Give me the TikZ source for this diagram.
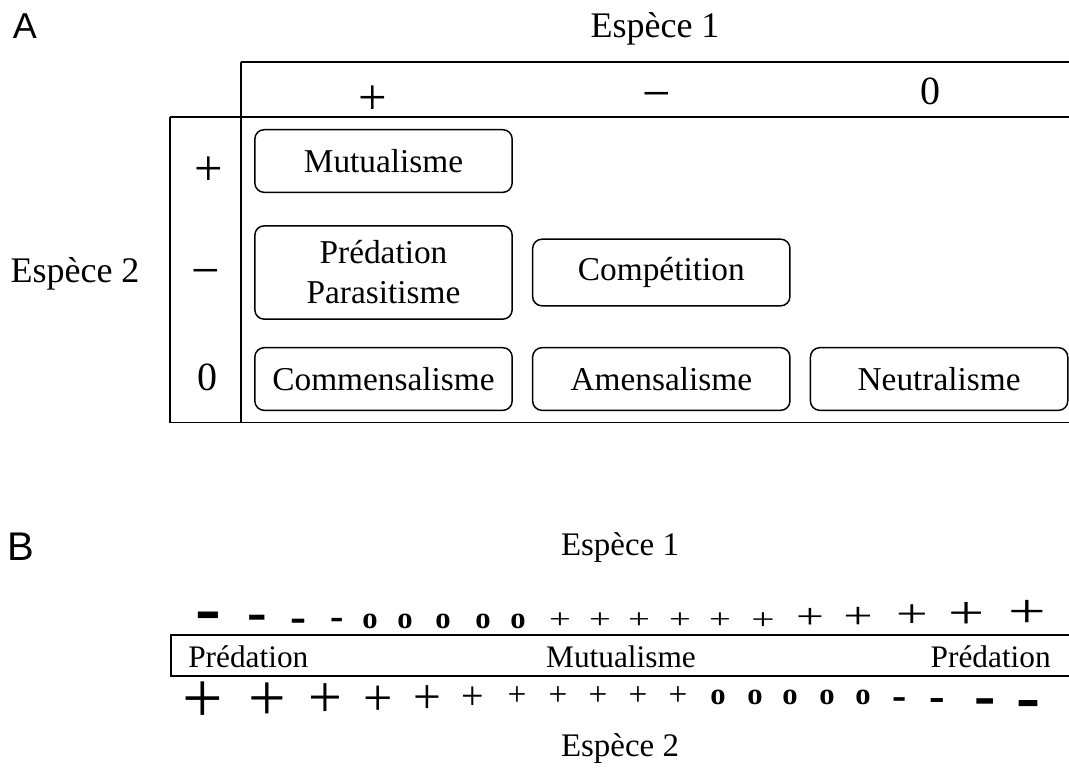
\documentclass[tikz,border=0pt]{standalone}
\usepackage{fontspec}
\setmainfont{Liberation Serif}
\newfontfamily\panelfont{Liberation Sans}
\usetikzlibrary{positioning}

\newcommand{\fs}[1]{\fontsize{#1}{#1}\selectfont}
\newcommand{\flatplus}{\scalebox{1}[0.72]{+}}

\begin{document}
\begin{tikzpicture}[x=0.75pt,y=-0.75pt,
  every node/.style={inner sep=0pt},
  thin rule/.style={line width=0.8pt},
  rule/.style={line width=1.2pt},
  relbox/.style={draw,line width=1.1pt,rounded corners=7pt,minimum width=193pt,
    minimum height=47pt,align=center,font=\fontsize{25}{30}\selectfont},
  sgn/.style={anchor=base,font=\fs{38}},
  zro/.style={anchor=base,font=\fs{30}},
  osym/.style={font=\bfseries\fs{23}}]
  \useasboundingbox (0,0) rectangle (1069,769);

  % A
  \node[font=\panelfont\fs{27}] (A) at (25,26) {A};
  \node[font=\fs{27}] (sp1) at (655,29) {Espèce 1};
  \node[font=\fs{27}] (sp2) at (75,274) {Espèce 2};

  \draw[thin rule] (241,62) -- (1069,62);
  \draw[thin rule] (241,62) -- (241,117);
  \draw[rule] (170,117) -- (1069,117);
  \draw[rule] (170,117) -- (170,422.5) -- (1069,422.5);
  \draw[rule] (241,117) -- (241,422.5);

  \node[sgn] (cplus) at (373,114) {+};
  \node[sgn] (cminus) at (657,110) {−};
  \node[zro] (czero) at (930,104) {0};
  \node[sgn] (rplus) at (209,185.5) {+};
  \node[sgn] (rminus) at (206,287.5) {−};
  \node[zro] (rzero) at (207,390.5) {0};

  \node[relbox] (mut) at (383.5,161) {Mutualisme};
  \node[relbox,minimum height=70pt] (pred) at (383.5,272.5) {Prédation\\Parasitisme};
  \node[relbox,minimum height=50pt,right=14.25pt of pred] (comp) {Compétition};
  \node[relbox] (comm) at (383.5,379) {Commensalisme};
  \node[relbox,right=14.25pt of comm] (amen) {Amensalisme};
  \node[relbox,right=14.25pt of amen] (neut) {Neutralisme};

  % B
  \node[font=\panelfont\fs{30}] (B) at (21,547) {B};
  \node[font=\fs{24.7}] (sp1b) at (620,548) {Espèce 1};
  \node[font=\fs{24.7}] (sp2b) at (620,749) {Espèce 2};

  \draw[rule] (1069,635) -- (171,635) -- (171,676) -- (1069,676);
  \node[font=\fs{23.5},anchor=west] (predl) at (188,657) {Prédation};
  \node[font=\fs{23.5}] (mutb) at (621,657) {Mutualisme};
  \node[font=\fs{23.5},anchor=east] (predr) at (1051,657) {Prédation};

  % effet sur espece 1
  \foreach \x/\y/\s [count=\i] in {208/623/58,257/623/44,298/626/36,337/624/30}
    \node[font=\bfseries\fs{\s}] (tm\i) at (\x,\y) {-};
  \foreach \x [count=\i] in {370,405,443,483,518}
    \node[osym] (to\i) at (\x,621) {o};
  \foreach \x/\y/\s [count=\i] in {560/621/29,600/621/29,639/621/29,680/621/29,720/621/29,
      763/621/31,810/618.5/37,858/617.5/39,912/616/42,967/615/48,1027/614/50}
    \node[font=\fs{\s}] (tp\i) at (\x,\y) {\flatplus};

  % effet sur espece 2
  \foreach \x/\y/\s [count=\i] in {203/702/54,267/702/50,325/701/45,378/701/39,427/700/37,
      473/698/30,517/696.5/25,558/696.5/25,598/696.5/25,638/696.5/25,678/696.5/25}
    \node[font=\fs{\s}] (bp\i) at (\x,\y) {+};
  \foreach \x [count=\i] in {718,755,790,827,863}
    \node[osym] (bo\i) at (\x,697) {o};
  \foreach \x/\y/\s [count=\i] in {900/704/32,937/705/35,985/708/48,1028/710/54}
    \node[font=\bfseries\fs{\s}] (bm\i) at (\x,\y) {-};
\end{tikzpicture}
\end{document}
